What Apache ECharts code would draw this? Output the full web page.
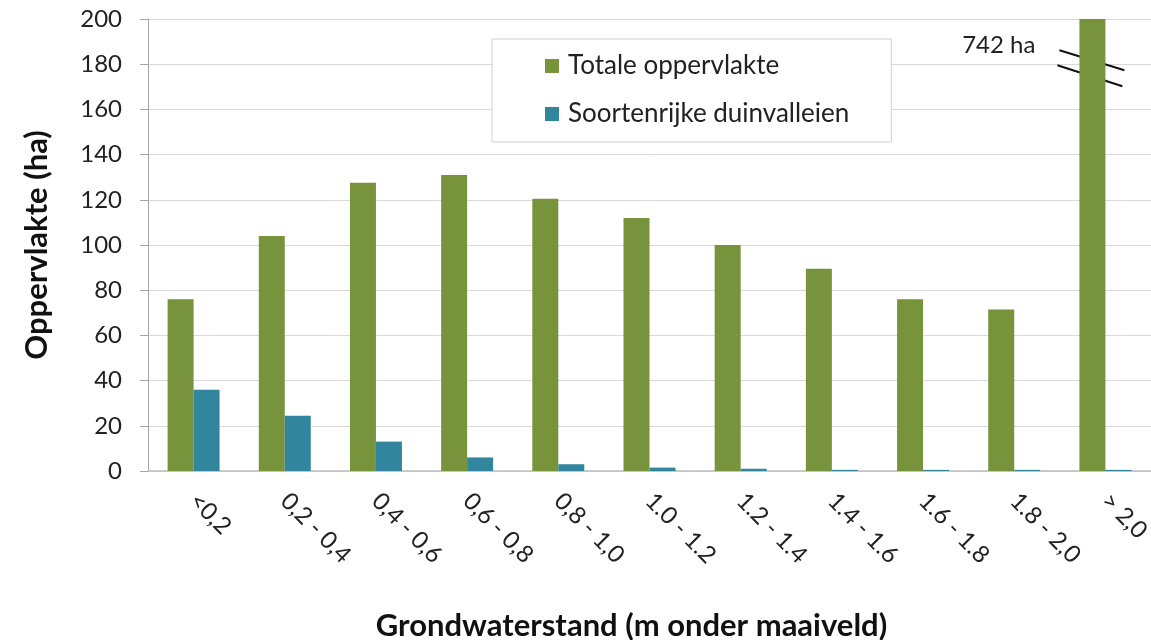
<!DOCTYPE html>
<html>
<head>
<meta charset="utf-8">
<script src="https://cdn.jsdelivr.net/npm/echarts@6/dist/echarts.min.js"></script>
<style>html,body{margin:0;padding:0;background:#fff;}#c{width:1151px;height:640px;}</style>
</head>
<body>
<div id="c"></div>
<script>
const categories = ['<0,2', '0,2 - 0,4', '0,4 - 0,6', '0,6 - 0,8', '0,8 - 1,0', '1.0 - 1.2', '1.2 - 1.4', '1.4 - 1.6', '1.6 - 1.8', '1.8 - 2,0', '> 2,0'];
const totaleOppervlakte = [76, 104, 127.5, 131, 120.5, 112, 100, 89.5, 76, 71.5, 742];
const soortenrijkeDuinvalleien = [36, 24.5, 13, 6, 3, 1.5, 1, 0.5, 0.5, 0.5, 0.5];
const seriesNames = ['Totale oppervlakte', 'Soortenrijke duinvalleien'];
const breakLabel = '742 ha';
const FONT = 'Lato';

const chart = echarts.init(document.getElementById('c'));
chart.setOption({
  animation: false,
  textStyle: { fontFamily: FONT },
  grid: { left: 148, right: 0, top: 19, bottom: 169, containLabel: false, outerBoundsMode: 'none' },
  legend: {
    orient: 'vertical',
    left: 492, top: 39,
    padding: [14, 42, 15, 53],
    itemGap: 22,
    itemWidth: 14, itemHeight: 14,
    icon: 'rect',
    borderColor: '#d0d0d0', borderWidth: 1, backgroundColor: '#fff',
    textStyle: { fontSize: 26, color: '#222', fontFamily: FONT, padding: [0, 0, 0, 4] },
    data: seriesNames
  },
  xAxis: {
    type: 'category',
    data: categories,
    axisLine: { lineStyle: { color: '#bfbfbf', width: 1.5 } },
    axisTick: { show: false },
    axisLabel: { rotate: -45, fontSize: 24, color: '#222', margin: 26, fontFamily: FONT },
    name: 'Grondwaterstand (m onder maaiveld)',
    nameLocation: 'middle', nameGap: 139,
    nameTextStyle: { fontSize: 31, fontWeight: 'bold', color: '#111', fontFamily: FONT, padding: [0, 36, 0, 0] }
  },
  yAxis: {
    type: 'value', min: 0, max: 200, interval: 20,
    axisLine: { show: true, lineStyle: { color: '#a6a6a6' } },
    axisTick: { show: true, length: 8, lineStyle: { color: '#a6a6a6' } },
    splitLine: { lineStyle: { color: '#d9d9d9', width: 1 } },
    axisLabel: { fontSize: 24, color: '#222', margin: 26, fontFamily: FONT },
    name: 'Oppervlakte (ha)',
    nameLocation: 'middle', nameGap: 96, nameRotate: 90,
    nameTextStyle: { fontSize: 31, fontWeight: 'bold', color: '#111', fontFamily: FONT }
  },
  series: [
    { name: seriesNames[0], type: 'bar', data: totaleOppervlakte, barGap: '0%', barCategoryGap: '43%', clip: true,
      itemStyle: { color: '#77933c' } },
    { name: seriesNames[1], type: 'bar', data: soortenrijkeDuinvalleien, clip: true,
      itemStyle: { color: '#31859c' } }
  ]
});

// axis-break annotation on the clipped last bar
const lastIdx = categories.length - 1;
const c = chart.convertToPixel({ gridIndex: 0 }, [lastIdx, 180]);
const bx = c[0] - 13; // centre of the first (green) bar in the last category
const by = c[1];
chart.setOption({
  graphic: [
    { type: 'line', shape: { x1: bx - 33, y1: by - 14, x2: bx + 32, y2: by + 6 }, style: { stroke: '#111', lineWidth: 2 } },
    { type: 'line', shape: { x1: bx - 35, y1: by + 1, x2: bx + 30, y2: by + 22 }, style: { stroke: '#111', lineWidth: 2 } },
    { type: 'text', style: { text: breakLabel, x: bx - 57, y: by - 19, align: 'right', verticalAlign: 'middle',
      font: '24px ' + FONT, fill: '#222' } }
  ]
});
</script>
</body>
</html>
